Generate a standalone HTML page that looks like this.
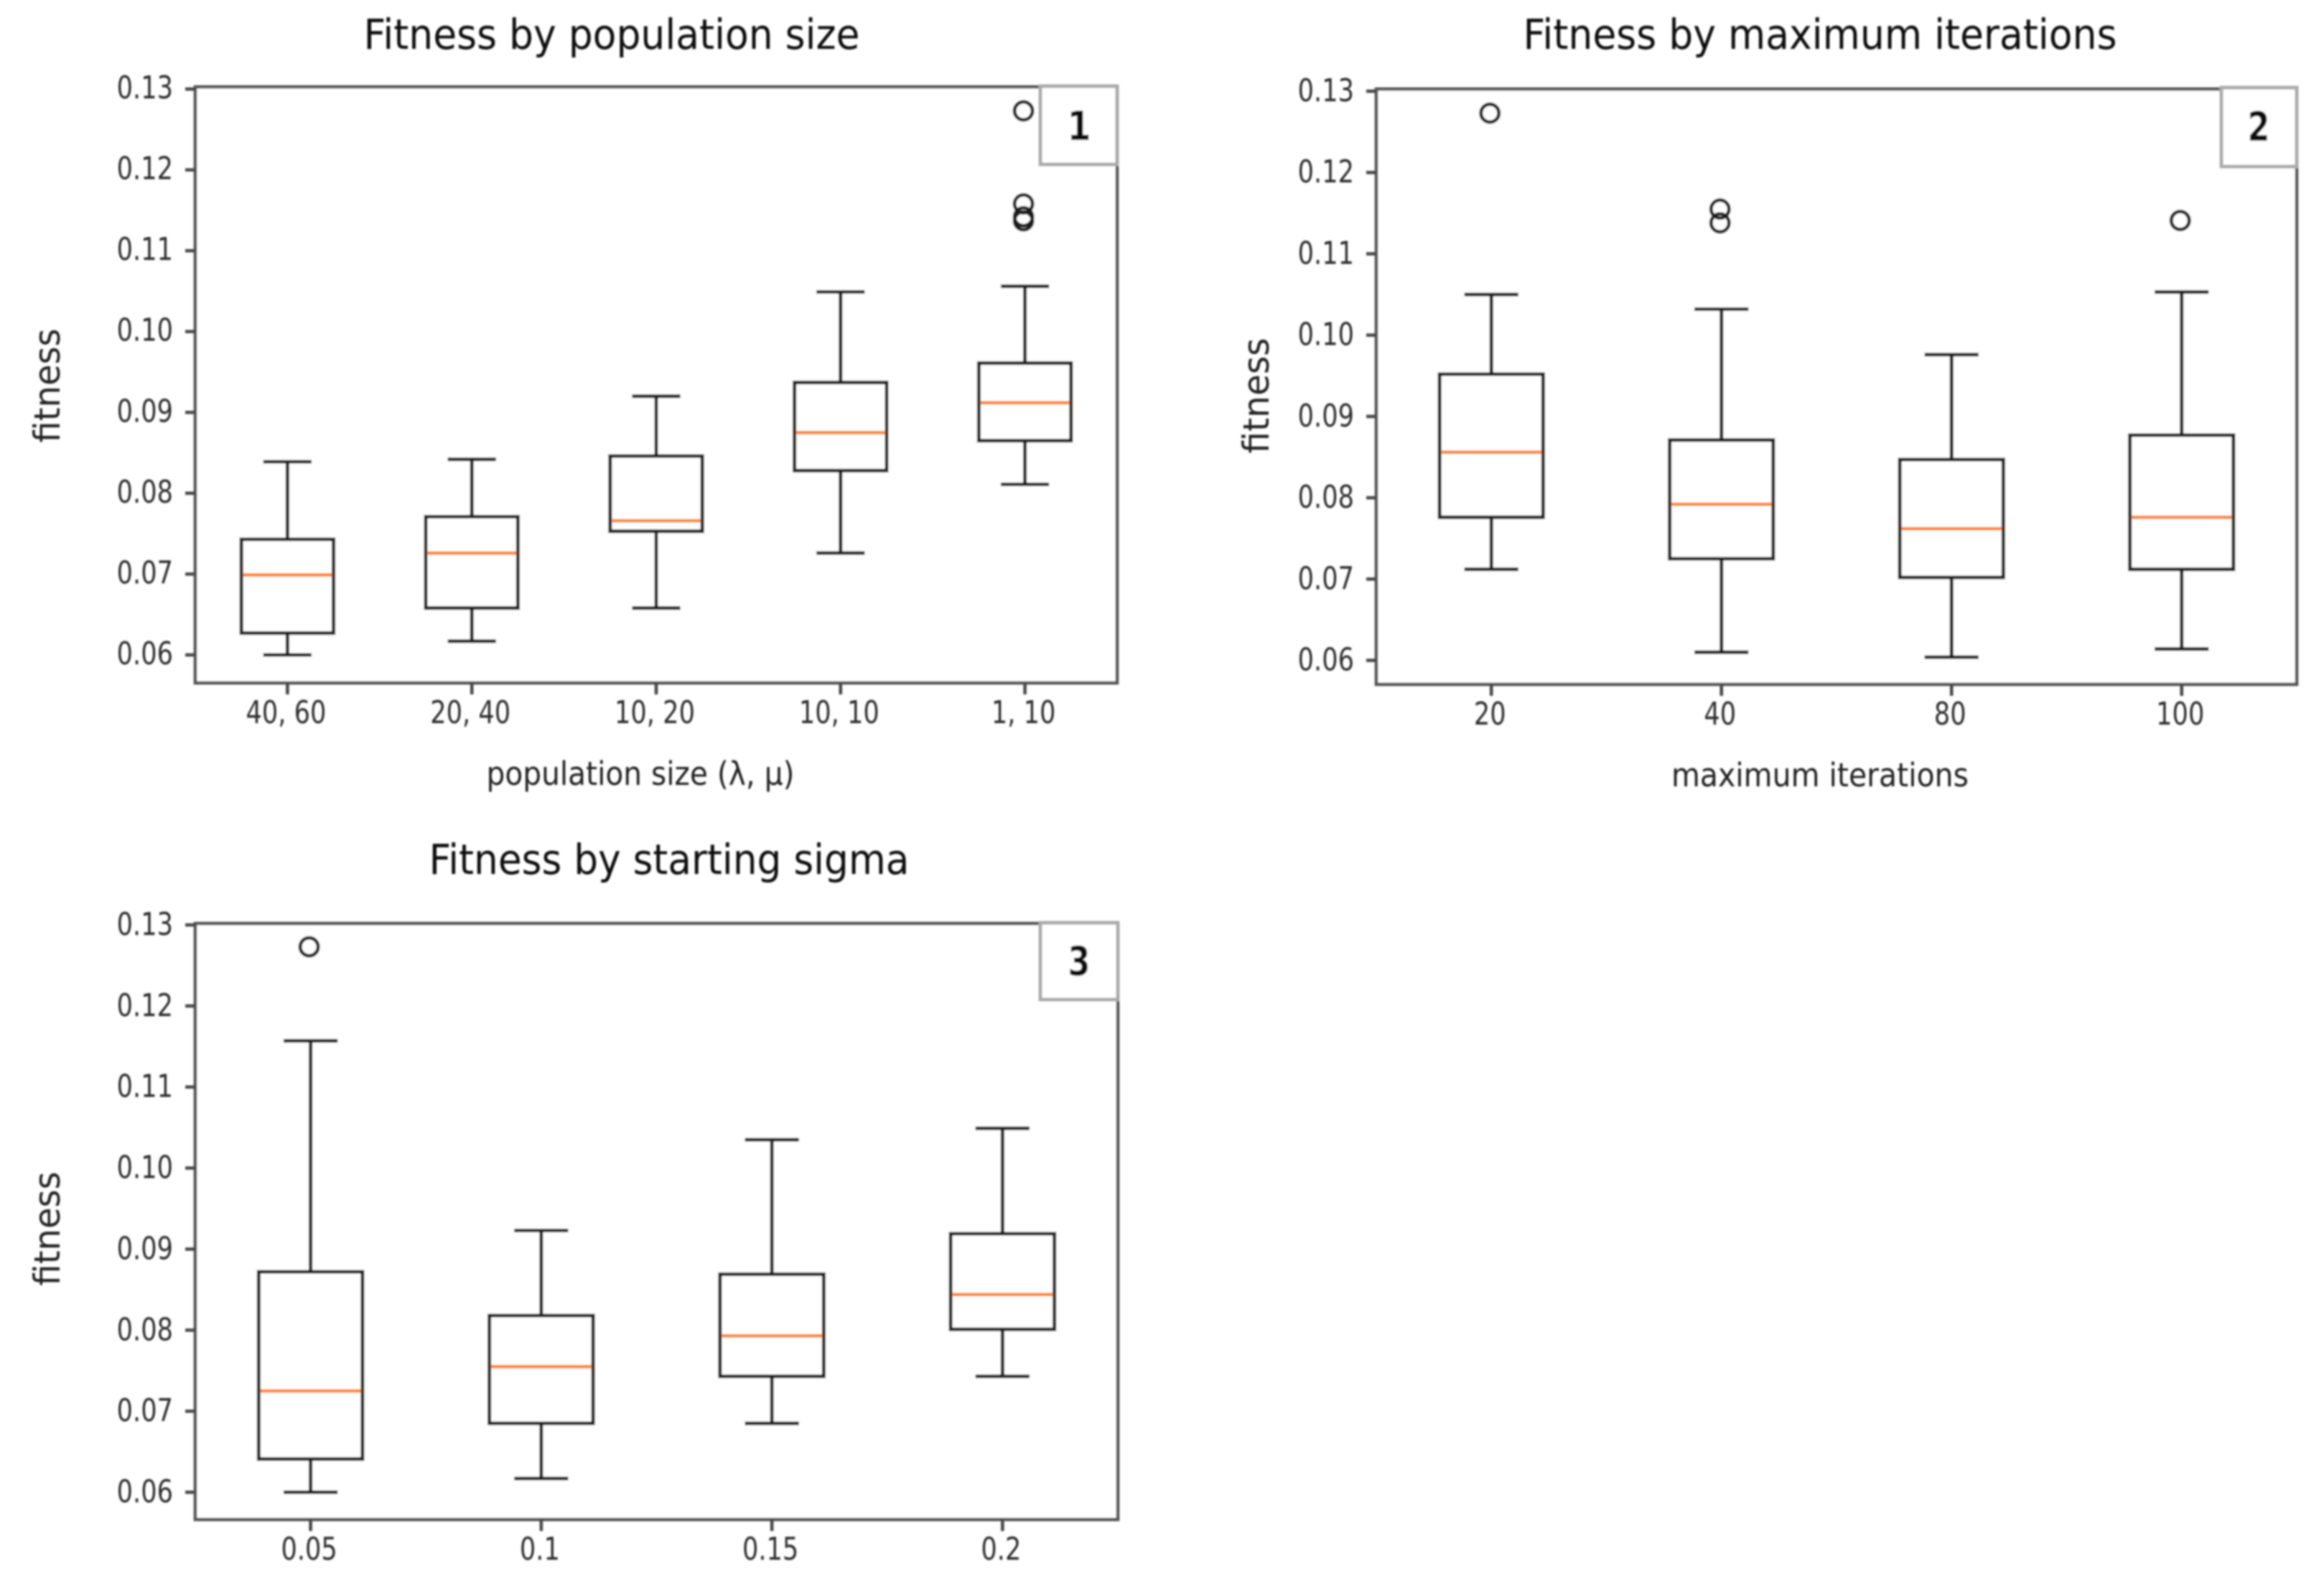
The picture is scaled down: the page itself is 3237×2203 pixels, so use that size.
<!DOCTYPE html>
<html lang="en">
<head>
<meta charset="utf-8">
<title>Fitness box plots</title>
<style>
  html, body { margin: 0; padding: 0; background: #fff; }
  svg { display: block; }
  text { font-family: "DejaVu Sans", "Liberation Sans", sans-serif; }
</style>
</head>
<body>
<svg id="figure" xmlns="http://www.w3.org/2000/svg" width="3237" height="2203" viewBox="0 0 3237 2203">
  <defs>
    <filter id="soft" x="0" y="0" width="100%" height="100%" filterUnits="userSpaceOnUse" primitiveUnits="userSpaceOnUse">
      <feGaussianBlur stdDeviation="1.2"/>
    </filter>
  </defs>
  <rect x="0" y="0" width="3237" height="2203" fill="#ffffff"/>
  <g id="root" filter="url(#soft)">
    <text x="852" y="68" font-size="58" fill="#111" text-anchor="middle" textLength="691" lengthAdjust="spacingAndGlyphs">Fitness by population size</text>
    <text x="2535" y="68" font-size="58" fill="#111" text-anchor="middle" textLength="827" lengthAdjust="spacingAndGlyphs">Fitness by maximum iterations</text>
    <text x="932" y="1217" font-size="58" fill="#111" text-anchor="middle" textLength="669" lengthAdjust="spacingAndGlyphs">Fitness by starting sigma</text>

    <text x="892" y="1093" font-size="45" fill="#222" text-anchor="middle" textLength="429" lengthAdjust="spacingAndGlyphs">population size (λ, μ)</text>
    <text x="2535" y="1095" font-size="45" fill="#222" text-anchor="middle" textLength="414" lengthAdjust="spacingAndGlyphs">maximum iterations</text>

    <text transform="translate(83,537) rotate(-90)" font-size="50" fill="#222" text-anchor="middle" textLength="159" lengthAdjust="spacingAndGlyphs">fitness</text>
    <text transform="translate(1767,551) rotate(-90)" font-size="50" fill="#222" text-anchor="middle" textLength="161" lengthAdjust="spacingAndGlyphs">fitness</text>
    <text transform="translate(83,1711) rotate(-90)" font-size="50" fill="#222" text-anchor="middle" textLength="159" lengthAdjust="spacingAndGlyphs">fitness</text>

    <g id="panel-1"></g>
    <g id="panel-2"></g>
    <g id="panel-3"></g>

    <g>
      <rect x="1449" y="120" width="107" height="109" fill="#fff" stroke="#aaaaaa" stroke-width="5"/>
      <text transform="translate(1503,195) scale(0.85,1)" font-size="56" font-weight="bold" fill="#111" text-anchor="middle">1</text>
    </g>
    <g>
      <rect x="3094" y="122" width="105" height="110" fill="#fff" stroke="#aaaaaa" stroke-width="5"/>
      <text transform="translate(3146,196) scale(0.8,1)" font-size="56" font-weight="bold" fill="#111" text-anchor="middle">2</text>
    </g>
    <g>
      <rect x="1449" y="1285" width="108" height="107" fill="#fff" stroke="#aaaaaa" stroke-width="5"/>
      <text transform="translate(1503,1358) scale(0.8,1)" font-size="56" font-weight="bold" fill="#111" text-anchor="middle">3</text>
    </g>
  </g>
</svg>

<script>
// Shared y axis tick labels
const yTickLabels = ["0.06", "0.07", "0.08", "0.09", "0.10", "0.11", "0.12", "0.13"];

// Chart 1: population size
const populationCategories = ["40, 60", "20, 40", "10, 20", "10, 10", "1, 10"];
const populationLow = [0.0600, 0.0617, 0.0658, 0.0726, 0.0811];
const populationQ1 = [0.0627, 0.0658, 0.0753, 0.0828, 0.0865];
const populationMedian = [0.0699, 0.0726, 0.0766, 0.0875, 0.0912];
const populationQ3 = [0.0743, 0.0771, 0.0846, 0.0937, 0.0961];
const populationHigh = [0.0839, 0.0842, 0.0920, 0.1049, 0.1056];
const populationOutliers = [[], [], [], [], [0.1273, 0.1158, 0.1142, 0.1137]];

// Chart 2: maximum iterations
const iterationCategories = ["20", "40", "80", "100"];
const iterationLow = [0.0712, 0.0610, 0.0604, 0.0614];
const iterationQ1 = [0.0776, 0.0725, 0.0702, 0.0712];
const iterationMedian = [0.0856, 0.0792, 0.0762, 0.0776];
const iterationQ3 = [0.0952, 0.0871, 0.0847, 0.0877];
const iterationHigh = [0.1050, 0.1032, 0.0976, 0.1053];
const iterationOutliers = [[0.1273], [0.1155, 0.1138], [], [0.1141]];

// Chart 3: starting sigma
const sigmaCategories = ["0.05", "0.1", "0.15", "0.2"];
const sigmaLow = [0.0600, 0.0617, 0.0685, 0.0743];
const sigmaQ1 = [0.0641, 0.0685, 0.0743, 0.0801];
const sigmaMedian = [0.0725, 0.0755, 0.0793, 0.0844];
const sigmaQ3 = [0.0872, 0.0818, 0.0869, 0.0919];
const sigmaHigh = [0.1157, 0.0923, 0.1035, 0.1049];
const sigmaOutliers = [[0.1273], [], [], []];

const NS = "http://www.w3.org/2000/svg";

function make(tag, attrs, parent) {
  const node = document.createElementNS(NS, tag);
  for (const key in attrs) node.setAttribute(key, attrs[key]);
  parent.appendChild(node);
  return node;
}

function drawPanel(groupId, frame, categories, low, q1, median, q3, high, outliers) {
  const group = document.getElementById(groupId);
  const count = categories.length;
  const unit = (frame.right - frame.left) / count;
  const xAt = (position) => frame.left + (position - 0.5) * unit;
  const yAt = (value) => frame.y06 + (value - 0.06) * (frame.y13 - frame.y06) / 0.07;
  const boxWidth = Math.min(0.5, 0.15 * (count - 1)) * unit;
  const capWidth = boxWidth / 2 + 3;

  const spine = make("rect", { x: frame.left, y: frame.top, width: frame.right - frame.left, height: frame.bottom - frame.top, fill: "#fff", stroke: "#555555", "stroke-width": 4.6 }, group);
  
  

  yTickLabels.forEach((label) => {
    const y = yAt(parseFloat(label));
    const tick = make("line", { x1: frame.left - 14, x2: frame.left, y1: y, y2: y, stroke: "#4a4a4a", "stroke-width": 4.6 }, group);
    
    
    const text = make("text", { transform: "translate(" + (frame.left - 31) + "," + (y + frame.labelDrop) + ") scale(0.8,1)", "font-size": 44, fill: "#2e2e2e", "text-anchor": "end" }, group);
    text.textContent = label;
    
    
  });

  categories.forEach((category, i) => {
    const cx = xAt(i + 1);
    const tick = make("line", { x1: cx, x2: cx, y1: frame.bottom, y2: frame.bottom + 16, stroke: "#4a4a4a", "stroke-width": 4.6 }, group);
    
    
    const text = make("text", { transform: "translate(" + (cx - 2) + "," + (frame.bottom + 56) + ") scale(0.8,1)", "font-size": 44, fill: "#2e2e2e", "text-anchor": "middle" }, group);
    text.textContent = category;
    
    

    const ink = { stroke: "#1c1c1c", "stroke-width": 5, fill: "none" };
    const upper = make("line", Object.assign({ x1: cx, x2: cx, y1: yAt(q3[i]), y2: yAt(high[i]) }, ink), group);
    
    
    const lower = make("line", Object.assign({ x1: cx, x2: cx, y1: yAt(q1[i]), y2: yAt(low[i]) }, ink), group);
    
    
    const capTop = make("line", Object.assign({ x1: cx - capWidth / 2, x2: cx + capWidth / 2, y1: yAt(high[i]), y2: yAt(high[i]) }, ink), group);
    
    
    const capBottom = make("line", Object.assign({ x1: cx - capWidth / 2, x2: cx + capWidth / 2, y1: yAt(low[i]), y2: yAt(low[i]) }, ink), group);
    
    
    const box = make("rect", Object.assign({ x: cx - boxWidth / 2, y: yAt(q3[i]), width: boxWidth, height: yAt(q1[i]) - yAt(q3[i]) }, ink), group);
    
    
    const med = make("line", { x1: cx - boxWidth / 2 + 2, x2: cx + boxWidth / 2 - 2, y1: yAt(median[i]), y2: yAt(median[i]), stroke: "#ff8420", "stroke-width": 4.6 }, group);
    
    

    outliers[i].forEach((value) => {
      const dot = make("circle", { cx: cx - 2, cy: yAt(value), r: 12.5, fill: "none", stroke: "#1c1c1c", "stroke-width": 5 }, group);
      
      
    });
  });
}

drawPanel("panel-1", { left: 272, right: 1556, top: 121, bottom: 951, y06: 912, y13: 124, labelDrop: 13 },
  populationCategories, populationLow, populationQ1, populationMedian, populationQ3, populationHigh, populationOutliers);
drawPanel("panel-2", { left: 1917, right: 3199, top: 124, bottom: 953, y06: 919.6, y13: 127, labelDrop: 14 },
  iterationCategories, iterationLow, iterationQ1, iterationMedian, iterationQ3, iterationHigh, iterationOutliers);
drawPanel("panel-3", { left: 272, right: 1557, top: 1286, bottom: 2116, y06: 2078, y13: 1288, labelDrop: 14 },
  sigmaCategories, sigmaLow, sigmaQ1, sigmaMedian, sigmaQ3, sigmaHigh, sigmaOutliers);
</script>
</body>
</html>
